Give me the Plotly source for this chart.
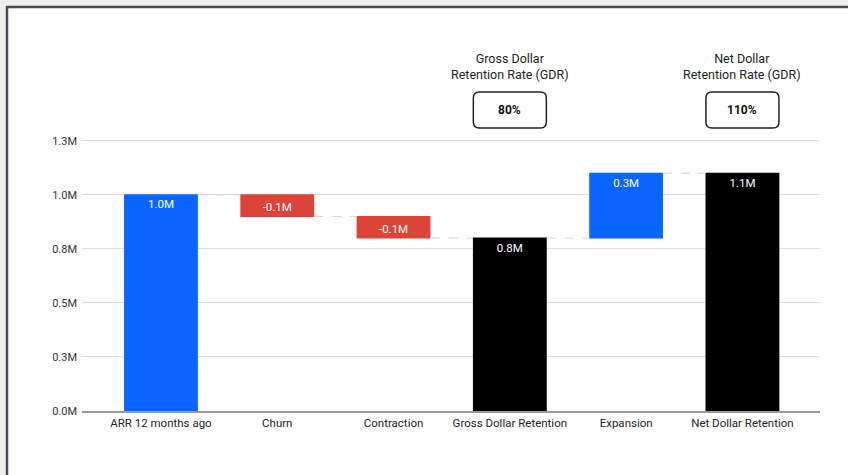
import plotly.graph_objects as go

# ---- data ----
categories = ["ARR 12 months ago", "Churn", "Contraction",
              "Gross Dollar Retention", "Expansion", "Net Dollar Retention"]
measures = ["relative", "relative", "relative", "total", "relative", "total"]
changes_m = [1.0, -0.1, -0.1, 0, 0.3, 0]          # millions; totals computed by plotly
bar_labels = ["1.0M", "-0.1M", "-0.1M", "0.8M", "0.3M", "1.1M"]
ytick_vals = [0, 0.25, 0.5, 0.75, 1.0, 1.25]
ytick_text = ["0.0M", "0.3M", "0.5M", "0.8M", "1.0M", "1.3M"]
kpi_titles = ["Gross Dollar<br>Retention Rate (GDR)", "Net Dollar<br>Retention Rate (GDR)"]
kpi_values = ["80%", "110%"]
kpi_categories = ["Gross Dollar Retention", "Net Dollar Retention"]

W, H = 848, 475
L, R, T, B = 82, 28, 130, 64
PW, PH = W - L - R, H - T - B


def px_x(p):
    return (p - L) / PW


def px_y(p):
    return (H - B - p) / PH


BLUE = "#0a66ff"
RED = "#db4437"
BLACK = "#000000"
FONT = "Roboto"

fig = go.Figure(go.Waterfall(
    x=categories,
    y=changes_m,
    measure=measures,
    text=bar_labels,
    textposition="inside",
    insidetextanchor="end",
    textfont=dict(family=FONT, size=11.5, color="white"),
    constraintext="none",
    width=0.635,
    increasing=dict(marker=dict(color=BLUE)),
    decreasing=dict(marker=dict(color=RED)),
    totals=dict(marker=dict(color=BLACK)),
    connector=dict(mode="between", line=dict(color="#d4d4d4", width=1, dash="dash")),
    hoverinfo="skip",
    showlegend=False,
))

shapes = [
    dict(type="rect", xref="paper", yref="paper",
         x0=px_x(7), x1=px_x(870), y0=px_y(7), y1=px_y(500),
         fillcolor="white", line=dict(color="#474c55", width=2.5), layer="below"),
]

hw, hh, r = 36.5, 18, 6
box_path = (f"M {-hw + r},{-hh} L {hw - r},{-hh} Q {hw},{-hh} {hw},{-hh + r} "
            f"L {hw},{hh - r} Q {hw},{hh} {hw - r},{hh} L {-hw + r},{hh} "
            f"Q {-hw},{hh} {-hw},{hh - r} L {-hw},{-hh + r} Q {-hw},{-hh} {-hw + r},{-hh} Z")

annotations = []
for title, val, cat in zip(kpi_titles, kpi_values, kpi_categories):
    annotations.append(dict(x=cat, xref="x", y=px_y(66.5), yref="paper",
                            text=title, showarrow=False, xanchor="center", yanchor="middle",
                            font=dict(family=FONT, size=12.5, color="#222")))
    annotations.append(dict(x=cat, xref="x", y=px_y(110), yref="paper",
                            text=f"<b>{val}</b>", showarrow=False, xanchor="center", yanchor="middle",
                            font=dict(family=FONT, size=12, color="#111")))
    shapes.append(dict(type="path", xref="x", yref="paper",
                       xsizemode="pixel", ysizemode="pixel",
                       xanchor=cat, yanchor=px_y(110), path=box_path,
                       line=dict(color="#222", width=1.5), fillcolor="rgba(0,0,0,0)"))

fig.update_layout(
    width=W, height=H,
    margin=dict(l=L, r=R, t=T, b=B),
    paper_bgcolor="#f0efeb",
    plot_bgcolor="rgba(0,0,0,0)",
    font=dict(family=FONT, size=11, color="#333"),
    shapes=shapes,
    annotations=annotations,
    xaxis=dict(type="category", range=[-0.679, 5.667], showgrid=False,
               showline=True, linecolor="#9a9a9a", linewidth=1.5,
               tickfont=dict(family=FONT, size=11.5, color="#222"), ticks=""),
    yaxis=dict(range=[0, 1.3], tickvals=ytick_vals, ticktext=ytick_text,
               showgrid=True, gridcolor="#dddddd", gridwidth=1, zeroline=False,
               showline=False, ticks="", ticklabelstandoff=4,
               tickfont=dict(family=FONT, size=11, color="#333")),
)

fig.write_html("out.html")
